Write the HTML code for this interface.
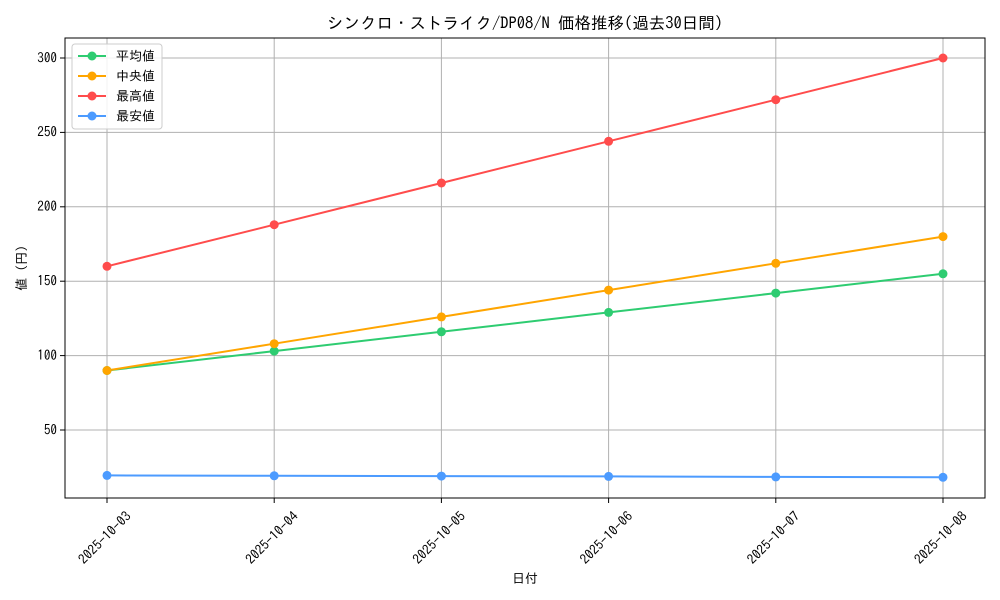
<!DOCTYPE html>
<html><head><meta charset="utf-8"><style>
html,body{margin:0;padding:0;background:#fff;}
svg{display:block;font-family:"IPAGothic","Noto Sans CJK JP",sans-serif;}
</style></head><body>
<svg width="1000" height="600" viewBox="0 0 1000 600" xmlns="http://www.w3.org/2000/svg">
<rect width="1000" height="600" fill="#fff"/>
<text x="525" y="29" font-size="16.5" text-anchor="middle" fill="#000">シンクロ・ストライク/DP08/N 価格推移(過去30日間)</text>
<g stroke="#b0b0b0" stroke-width="1">
<line x1="107" y1="38" x2="107" y2="498"/><line x1="274.2" y1="38" x2="274.2" y2="498"/><line x1="441.4" y1="38" x2="441.4" y2="498"/><line x1="608.6" y1="38" x2="608.6" y2="498"/><line x1="775.8" y1="38" x2="775.8" y2="498"/><line x1="943" y1="38" x2="943" y2="498"/>
<line x1="65" y1="430" x2="985" y2="430"/><line x1="65" y1="355.6" x2="985" y2="355.6"/><line x1="65" y1="281.2" x2="985" y2="281.2"/><line x1="65" y1="206.8" x2="985" y2="206.8"/><line x1="65" y1="132.4" x2="985" y2="132.4"/><line x1="65" y1="58" x2="985" y2="58"/>
</g>
<g font-size="13.2" fill="#000" text-anchor="end">
<text x="57" y="434.5">50</text><text x="57" y="360">100</text><text x="57" y="285.5">150</text><text x="57" y="211">200</text><text x="57" y="136.5">250</text><text x="57" y="62.5">300</text>
</g>
<g stroke="#000"><line x1="60" y1="430" x2="65" y2="430"/><line x1="60" y1="355.6" x2="65" y2="355.6"/><line x1="60" y1="281.2" x2="65" y2="281.2"/><line x1="60" y1="206.8" x2="65" y2="206.8"/><line x1="60" y1="132.4" x2="65" y2="132.4"/><line x1="60" y1="58" x2="65" y2="58"/>
<line x1="107" y1="498" x2="107" y2="503"/><line x1="274.2" y1="498" x2="274.2" y2="503"/><line x1="441.4" y1="498" x2="441.4" y2="503"/><line x1="608.6" y1="498" x2="608.6" y2="503"/><line x1="775.8" y1="498" x2="775.8" y2="503"/><line x1="943" y1="498" x2="943" y2="503"/></g>
<g font-size="13.5" fill="#000" text-anchor="middle">
<text transform="translate(108,541) rotate(-45)">2025-10-03</text>
<text transform="translate(275.2,541) rotate(-45)">2025-10-04</text>
<text transform="translate(442.4,541) rotate(-45)">2025-10-05</text>
<text transform="translate(609.6,541) rotate(-45)">2025-10-06</text>
<text transform="translate(776.8,541) rotate(-45)">2025-10-07</text>
<text transform="translate(944,541) rotate(-45)">2025-10-08</text>
</g>
<text x="525" y="583" font-size="13" text-anchor="middle">日付</text>
<text transform="translate(26,268) rotate(-90)" font-size="13" text-anchor="middle">値 (円)</text>
<g fill="none" stroke-width="2">
<polyline stroke="#4c9bff" points="107,475.4 274.2,475.8 441.4,476.1 608.6,476.4 775.8,476.9 943,477.3"/>
<polyline stroke="#2ecc71" points="107,370.5 274.2,351.1 441.4,331.8 608.6,312.4 775.8,293.1 943,273.8"/>
<polyline stroke="#ffa500" points="107,370.5 274.2,343.7 441.4,316.9 608.6,290.1 775.8,263.3 943,236.6"/>
<polyline stroke="#ff4c4c" points="107,266.3 274.2,224.7 441.4,183 608.6,141.3 775.8,99.7 943,58"/>
</g>
<g fill="#4c9bff"><circle cx="107" cy="475.4" r="4.5"/><circle cx="274.2" cy="475.8" r="4.5"/><circle cx="441.4" cy="476.1" r="4.5"/><circle cx="608.6" cy="476.4" r="4.5"/><circle cx="775.8" cy="476.9" r="4.5"/><circle cx="943" cy="477.3" r="4.5"/></g>
<g fill="#2ecc71"><circle cx="107" cy="370.5" r="4.5"/><circle cx="274.2" cy="351.1" r="4.5"/><circle cx="441.4" cy="331.8" r="4.5"/><circle cx="608.6" cy="312.4" r="4.5"/><circle cx="775.8" cy="293.1" r="4.5"/><circle cx="943" cy="273.8" r="4.5"/></g>
<g fill="#ffa500"><circle cx="107" cy="370.5" r="4.5"/><circle cx="274.2" cy="343.7" r="4.5"/><circle cx="441.4" cy="316.9" r="4.5"/><circle cx="608.6" cy="290.1" r="4.5"/><circle cx="775.8" cy="263.3" r="4.5"/><circle cx="943" cy="236.6" r="4.5"/></g>
<g fill="#ff4c4c"><circle cx="107" cy="266.3" r="4.5"/><circle cx="274.2" cy="224.7" r="4.5"/><circle cx="441.4" cy="183" r="4.5"/><circle cx="608.6" cy="141.3" r="4.5"/><circle cx="775.8" cy="99.7" r="4.5"/><circle cx="943" cy="58" r="4.5"/></g>
<rect x="65" y="38" width="920" height="460" fill="none" stroke="#000" stroke-width="1"/>
<rect x="72" y="44" width="90" height="85" rx="3" fill="#fff" fill-opacity="0.85" stroke="#ccc"/>
<g stroke-width="2">
<line x1="78" y1="56" x2="106" y2="56" stroke="#2ecc71"/><circle cx="92" cy="56" r="4.5" fill="#2ecc71"/>
<line x1="78" y1="76" x2="106" y2="76" stroke="#ffa500"/><circle cx="92" cy="76" r="4.5" fill="#ffa500"/>
<line x1="78" y1="96" x2="106" y2="96" stroke="#ff4c4c"/><circle cx="92" cy="96" r="4.5" fill="#ff4c4c"/>
<line x1="78" y1="116" x2="106" y2="116" stroke="#4c9bff"/><circle cx="92" cy="116" r="4.5" fill="#4c9bff"/>
</g>
<g font-size="13" fill="#000">
<text x="116" y="60.5">平均値</text><text x="116" y="80.5">中央値</text><text x="116" y="100.5">最高値</text><text x="116" y="120.5">最安値</text>
</g>
</svg>
</body></html>
